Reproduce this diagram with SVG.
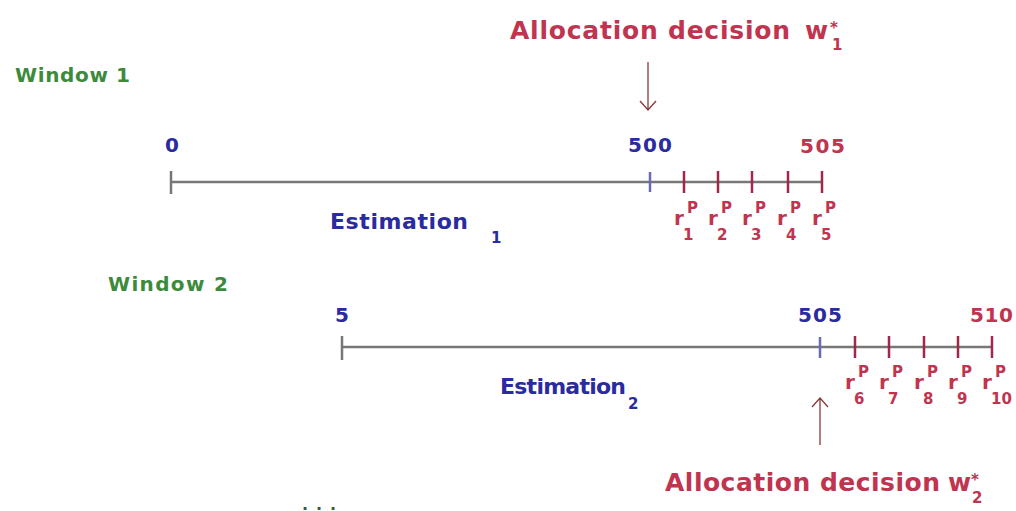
<svg xmlns="http://www.w3.org/2000/svg" width="1016" height="511" viewBox="0 0 1016 511">
<defs>
<style>
text{font-family:"DejaVu Sans","Liberation Sans",sans-serif;font-weight:bold}
.red{fill:#c0344f}
.blue{fill:#2b2ba0}
.green{fill:#3d8a3d}
.win{font-size:20px}
.num{font-size:20px}
.est{font-size:22px}
.alloc{font-size:25px}
.r{font-size:20px}
.rs{font-size:15px}
.axis{stroke:#777;stroke-width:2.5}
.tg{stroke:#777;stroke-width:2.5}
.tb{stroke:#6a6ab0;stroke-width:2.5}
.tr{stroke:#a0264a;stroke-width:2.5}
.arrow{stroke:#8a3a3a;stroke-width:1.3;fill:none}
</style>
</defs>
<rect width="1016" height="511" fill="#fff"/>

<g id="window1">
<text class="green win" x="15" y="82" textLength="115">Window 1</text>
<text class="blue num" x="165" y="152">0</text>
<text class="blue num" x="628" y="152" textLength="44">500</text>
<text class="red num" x="800" y="153" textLength="45">505</text>
</g>

<g id="alloc1">
<text class="red alloc" x="510" y="39" textLength="280">Allocation decision</text>
<text class="red alloc" x="805" y="39">w</text>
<text class="red rs" x="830" y="33">*</text>
<text class="red rs" x="832" y="50">1</text>
</g>

<g id="estimation1">
<text class="blue est" x="330" y="229" textLength="138">Estimation</text>
<text class="blue rs" x="491" y="243">1</text>
</g>

<g id="rlabels1">
<text class="red r" x="674" y="225">r</text><text class="red rs" x="687" y="213">P</text><text class="red rs" x="683" y="240">1</text>
<text class="red r" x="708" y="225">r</text><text class="red rs" x="721" y="213">P</text><text class="red rs" x="717" y="240">2</text>
<text class="red r" x="742" y="225">r</text><text class="red rs" x="755" y="213">P</text><text class="red rs" x="751" y="240">3</text>
<text class="red r" x="777" y="225">r</text><text class="red rs" x="790" y="213">P</text><text class="red rs" x="786" y="240">4</text>
<text class="red r" x="812" y="225">r</text><text class="red rs" x="825" y="213">P</text><text class="red rs" x="821" y="240">5</text>
</g>

<g id="window2">
<text class="green win" x="108" y="291" textLength="120">Window 2</text>
<text class="blue num" x="335" y="322">5</text>
<text class="blue num" x="798" y="322" textLength="44">505</text>
<text class="red num" x="970" y="322" textLength="43">510</text>
</g>

<g id="estimation2">
<text class="blue est" x="500" y="394" textLength="126">Estimation</text>
<text class="blue rs" x="628" y="409">2</text>
</g>

<g id="rlabels2">
<text class="red r" x="845" y="389">r</text><text class="red rs" x="858" y="377">P</text><text class="red rs" x="854" y="404">6</text>
<text class="red r" x="879" y="389">r</text><text class="red rs" x="892" y="377">P</text><text class="red rs" x="888" y="404">7</text>
<text class="red r" x="914" y="389">r</text><text class="red rs" x="927" y="377">P</text><text class="red rs" x="923" y="404">8</text>
<text class="red r" x="948" y="389">r</text><text class="red rs" x="961" y="377">P</text><text class="red rs" x="957" y="404">9</text>
<text class="red r" x="982" y="389">r</text><text class="red rs" x="995" y="377">P</text><text class="red rs" x="991" y="404">10</text>
</g>

<g id="alloc2">
<text class="red alloc" x="665" y="491" textLength="275">Allocation decision</text>
<text class="red alloc" x="948" y="491">w</text>
<text class="red rs" x="971" y="485">*</text>
<text class="red rs" x="972" y="503">2</text>
</g>

<g id="ellipsis">
<text x="302" y="510" font-size="16" fill="#3a5a3a" textLength="34">...</text>
</g>

<g id="connectors">
<line class="axis" x1="171" y1="182" x2="822" y2="182"/>
<line class="tg" x1="171" y1="171" x2="171" y2="194"/>
<line class="tb" x1="650" y1="172" x2="650" y2="192"/>
<line class="tr" x1="684" y1="171" x2="684" y2="193"/>
<line class="tr" x1="718" y1="171" x2="718" y2="193"/>
<line class="tr" x1="752" y1="171" x2="752" y2="193"/>
<line class="tr" x1="788" y1="171" x2="788" y2="193"/>
<line class="tr" x1="822" y1="171" x2="822" y2="193"/>

<line class="axis" x1="342" y1="347" x2="992" y2="347"/>
<line class="tg" x1="342" y1="336" x2="342" y2="360"/>
<line class="tb" x1="820" y1="337" x2="820" y2="358"/>
<line class="tr" x1="855" y1="336" x2="855" y2="358"/>
<line class="tr" x1="889" y1="336" x2="889" y2="358"/>
<line class="tr" x1="924" y1="336" x2="924" y2="358"/>
<line class="tr" x1="958" y1="336" x2="958" y2="358"/>
<line class="tr" x1="992" y1="336" x2="992" y2="358"/>

<path class="arrow" d="M648 62 V110 M640 101 L648 110 L656 101"/>
<path class="arrow" d="M820 445 V398 M812 407 L820 398 L828 407"/>
</g>
</svg>
